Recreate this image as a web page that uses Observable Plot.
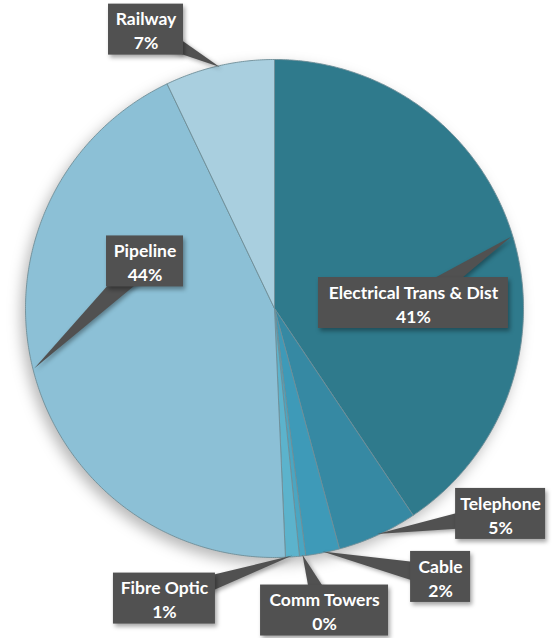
<!DOCTYPE html>
<html><head><meta charset="utf-8">
<script src="https://cdn.jsdelivr.net/npm/d3@7"></script>
<script src="https://cdn.jsdelivr.net/npm/@observablehq/plot@0.6"></script>
<style>body{margin:0;background:#fff;}</style>
</head><body><div id="chart"></div>
<script>
// ---- data ----
const categories = ["Electrical Trans & Dist","Telephone","Cable","Comm Towers","Fibre Optic","Pipeline","Railway"];
const shares = [40.6, 5.2, 2.2, 0.4, 0.9, 43.6, 7.1];
const percentLabels = ["41%","5%","2%","0%","1%","44%","7%"];
const colors = ["#2f7a8c","#3689a3","#3e9ab8","#4aa6c2","#5cb3cc","#8cc0d6","#a9cfdf"];

// ---- layout of the callout boxes (centre in pie-radius units, width in px) ----
const labelCenterX = [0.558, 0.908, 0.667, 0.201, -0.442, -0.520, -0.516];
const labelCenterY = [0.022, -0.825, -1.078, -1.213, -1.165, 0.189, 1.120];
const labelWidthPx = [190, 90, 60, 128, 102, 77, 75];
const R = 249;            // pie radius in px
const boxH = 51;          // callout box height in px
const wedgeHalf = 12;     // callout pointer half-base in px

const total = d3.sum(shares);
let cum = 0;
const slicePts = [];
const wedgePts = [];
const boxes = [];
categories.forEach((c, i) => {
  const a0 = cum / total * 2 * Math.PI;
  cum += shares[i];
  const a1 = cum / total * 2 * Math.PI;
  const n = Math.max(2, Math.ceil((a1 - a0) / (Math.PI / 360)));
  slicePts.push({cat: c, x: 0, y: 0});
  for (let k = 0; k <= n; k++) {
    const a = a0 + (a1 - a0) * k / n;
    slicePts.push({cat: c, x: Math.sin(a), y: Math.cos(a)});
  }
  slicePts.push({cat: c, x: 0, y: 0});
  // callout pointer toward the middle of the slice's arc
  const am = (a0 + a1) / 2;
  const tx = Math.sin(am) * 0.995, ty = Math.cos(am) * 0.995;
  const cx = labelCenterX[i], cy = labelCenterY[i];
  let dx = tx - cx, dy = ty - cy;
  const L = Math.hypot(dx, dy); dx /= L; dy /= L;
  const h = wedgeHalf / R;
  wedgePts.push({cat: c, x: cx - dy * h, y: cy + dx * h});
  wedgePts.push({cat: c, x: tx, y: ty});
  wedgePts.push({cat: c, x: cx + dy * h, y: cy - dx * h});
  const hw = labelWidthPx[i] / 2 / R, hh = boxH / 2 / R;
  boxes.push({cat: c, label: c + "\n" + percentLabels[i], x: cx, y: cy,
              x1: cx - hw, x2: cx + hw, y1: cy - hh, y2: cy + hh});
});

const chart = Plot.plot({
  width: 555, height: 638,
  marginLeft: 25, marginRight: 32, marginTop: 59, marginBottom: 81,
  x: {domain: [-1, 1], axis: null},
  y: {domain: [-1, 1], axis: null},
  color: {domain: categories, range: colors},
  marks: [
    Plot.line(slicePts, {x: "x", y: "y", z: "cat", fill: "cat", stroke: "#6f8e98", strokeWidth: 1, strokeOpacity: 0.9}),
    Plot.line(wedgePts, {x: "x", y: "y", z: "cat", fill: "#515151", stroke: "none"}),
    Plot.rect(boxes, {x1: "x1", x2: "x2", y1: "y1", y2: "y2", fill: "#515151"}),
    Plot.text(boxes, {x: "x", y: "y", text: "label", fill: "white", fontSize: 17.5, fontWeight: "bold", fontFamily: "Lato", lineHeight: 1.37})
  ]
});
chart.style.fontFamily = "Lato";
document.getElementById("chart").appendChild(chart);
const lines = chart.querySelectorAll('g[aria-label="line"]');
if (lines[0]) lines[0].style.filter = "drop-shadow(-4px 6px 7px rgba(0,0,0,0.28))";
if (lines[1]) lines[1].style.filter = "drop-shadow(2px 2px 2px rgba(0,0,0,0.35))";
const b = chart.querySelector('g[aria-label="rect"]');
if (b) b.style.filter = "drop-shadow(2px 3px 2px rgba(0,0,0,0.35))";
</script>
</body></html>
